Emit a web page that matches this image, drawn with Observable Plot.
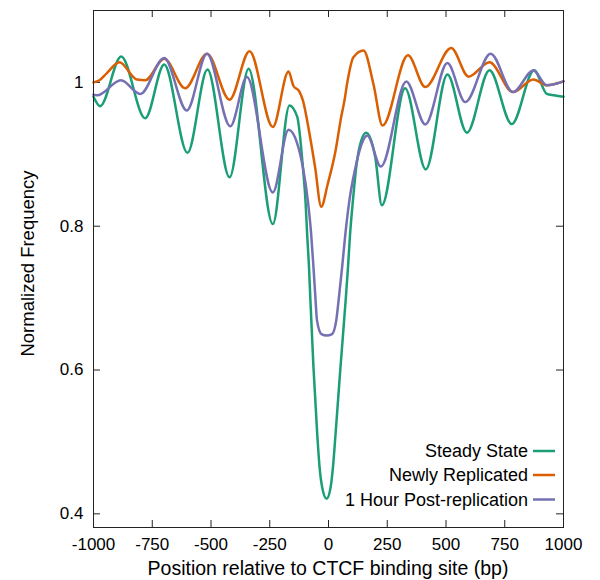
<!DOCTYPE html>
<html>
<head>
<meta charset="utf-8">
<script src="https://cdn.jsdelivr.net/npm/d3@7"></script>
<script src="https://cdn.jsdelivr.net/npm/@observablehq/plot@0.6"></script>
<style>
  html, body { margin: 0; padding: 0; background: #fff; }
  #chart { width: 600px; height: 580px; }
</style>
</head>
<body>
<div id="chart"></div>
<script>
// ---- Data ----
const seriesNames = ["Steady State", "Newly Replicated", "1 Hour Post-replication"];
const seriesColors = ["#1b9e77", "#d95f02", "#7570b3"];

const steadyX = [-1000, -972, -882, -780, -699, -600, -515, -421, -340, -237, -166, -133, -109, -98, -91, -83, -77, -64, -48, -38, -27, -8, 9, 19, 30, 51, 73, 83, 92, 104, 118, 132, 160, 199, 227, 326, 414, 506, 589, 685, 780, 875, 929, 960, 1000];
const steadyY = [0.980, 0.967, 1.036, 0.950, 1.025, 0.902, 1.018, 0.868, 1.019, 0.803, 0.968, 0.952, 0.882, 0.836, 0.790, 0.743, 0.697, 0.604, 0.511, 0.465, 0.437, 0.421, 0.437, 0.465, 0.511, 0.604, 0.697, 0.743, 0.790, 0.836, 0.882, 0.910, 0.930, 0.896, 0.829, 0.992, 0.879, 1.011, 0.930, 1.017, 0.942, 1.017, 0.984, 0.982, 0.980];

const newX = [-1000, -975, -943, -890, -815, -780, -699, -610, -517, -421, -336, -237, -170, -149, -125, -109, -81, -57, -31, -3, 30, 54, 68, 80, 106, 149, 191, 230, 338, 412, 522, 596, 685, 785, 872, 929, 1000];
const newY = [1.000, 1.003, 1.013, 1.028, 1.004, 1.003, 1.033, 0.992, 1.040, 0.976, 1.0435, 0.938, 1.015, 0.995, 0.988, 0.975, 0.929, 0.882, 0.827, 0.859, 0.905, 0.952, 0.975, 1.000, 1.035, 1.0445, 0.998, 0.940, 1.0376, 0.9935, 1.048, 1.008, 1.028, 0.9865, 1.004, 0.996, 1.0014];

const hourX = [-1000, -985, -883, -801, -699, -603, -517, -418, -347, -237, -170, -133, -109, -88, -74, -64, -55, -49, -30, -8, 15, 33, 43, 58, 72, 89, 115, 132, 165, 223, 331, 412, 506, 582, 690, 785, 872, 929, 1000];
const hourY = [0.983, 0.982, 1.003, 0.984, 1.034, 0.961, 1.040, 0.939, 1.0074, 0.847, 0.934, 0.915, 0.882, 0.836, 0.790, 0.743, 0.697, 0.669, 0.650, 0.648, 0.650, 0.669, 0.697, 0.743, 0.790, 0.836, 0.882, 0.905, 0.926, 0.883, 1.0014, 0.9416, 1.027, 0.9726, 1.040, 0.9865, 1.0167, 0.996, 1.0014];

const xTicks = [-1000, -750, -500, -250, 0, 250, 500, 750, 1000];
const yTicks = [0.4, 0.6, 0.8, 1];
const xTitle = "Position relative to CTCF binding site (bp)";
const yTitle = "Normalized Frequency";

// ---- Build table ----
const rows = [];
[[steadyX, steadyY], [newX, newY], [hourX, hourY]].forEach(([xs, ys], i) => {
  xs.forEach((x, j) => rows.push({series: seriesNames[i], x, y: ys[j]}));
});

// ---- Layout ----
const W = 600, H = 580;
const mL = 93, mR = 37, mT = 10, mB = 53;
const innerW = W - mL - mR, innerH = H - mT - mB;
const tickLen = 7;
const font = "'Liberation Sans', Arial, Helvetica, sans-serif";
const axisColor = "#222";

const svg = Plot.plot({
  width: W, height: H,
  marginLeft: mL, marginRight: mR, marginTop: mT, marginBottom: mB,
  style: {fontFamily: font, fontSize: "17px", color: "#000", background: "#fff"},
  x: {domain: [-1000, 1000]},
  y: {domain: [0.381, 1.1]},
  color: {domain: seriesNames, range: seriesColors},
  marks: [
    Plot.axisX({ticks: xTicks, tickSize: 0, tickPadding: 10, tickFormat: d => String(d), label: null, fill: "#000"}),
    Plot.axisY({ticks: yTicks, tickSize: 0, tickPadding: 10, tickFormat: d => String(d), label: null, fill: "#000"}),
    Plot.ruleX(xTicks, {insetTop: innerH - tickLen, stroke: axisColor}),
    Plot.ruleX(xTicks, {insetBottom: innerH - tickLen, stroke: axisColor}),
    Plot.ruleY(yTicks, {insetRight: innerW - tickLen, stroke: axisColor}),
    Plot.ruleY(yTicks, {insetLeft: innerW - tickLen, stroke: axisColor}),
    Plot.line(rows, {x: "x", y: "y", z: "series", stroke: "series", strokeWidth: 2.5, curve: "monotone-x"}),
    Plot.frame({stroke: axisColor})
  ]
});

document.getElementById("chart").appendChild(svg);

// ---- Titles and legend ----
const s = d3.select(svg);
s.append("text")
  .attr("x", mL + innerW / 2).attr("y", 574.5)
  .attr("text-anchor", "middle")
  .style("font-family", font).style("font-size", "19.5px").attr("fill", "#000")
  .text(xTitle);
s.append("text")
  .attr("transform", `translate(34, ${mT + innerH / 2 - 5}) rotate(-90)`)
  .attr("text-anchor", "middle")
  .style("font-family", font).style("font-size", "18.5px").attr("fill", "#000")
  .text(yTitle);

const legendRowY = [451, 475, 499.5];
const legendRight = mL + innerW - 35;
seriesNames.forEach((name, i) => {
  const g = s.append("g");
  g.append("text")
    .attr("x", legendRight).attr("y", legendRowY[i]).attr("dy", "0.35em")
    .attr("text-anchor", "end")
    .style("font-family", font).style("font-size", "18px").attr("fill", "#000")
    .text(name);
  g.append("line")
    .attr("x1", legendRight + 5).attr("x2", legendRight + 27)
    .attr("y1", legendRowY[i]).attr("y2", legendRowY[i])
    .attr("stroke", seriesColors[i]).attr("stroke-width", 2.5);
});
</script>
</body>
</html>
